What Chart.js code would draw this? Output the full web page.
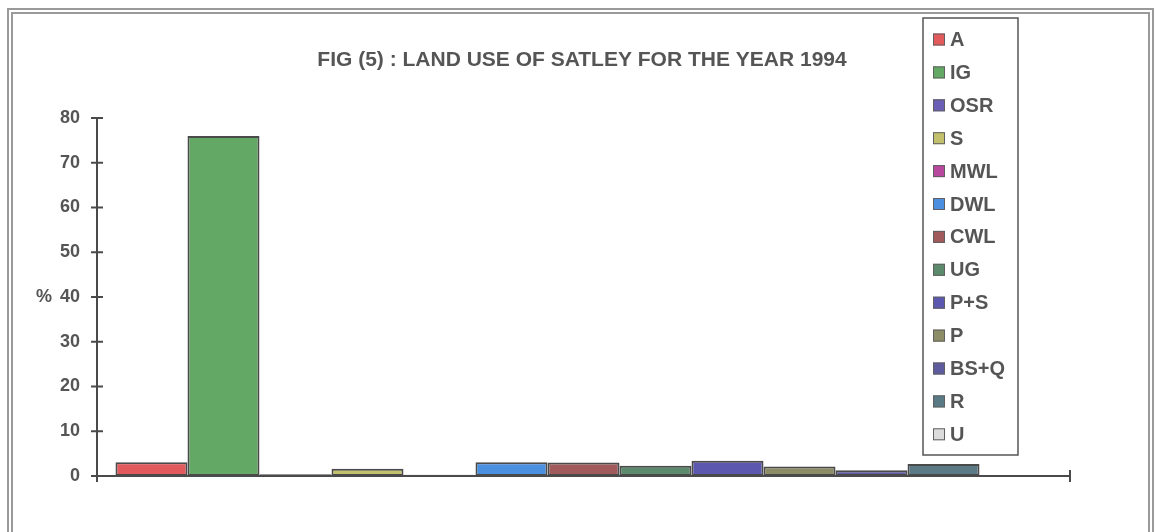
<!DOCTYPE html>
<html>
<head>
<meta charset="utf-8">
<script src="https://cdn.jsdelivr.net/npm/chart.js@4.4.1/dist/chart.umd.min.js"></script>
<style>
  html, body { margin: 0; padding: 0; background: #ffffff; overflow: hidden; }
  #wrap { position: relative; width: 1155px; height: 532px; }
  #frame { position: absolute; left: 7px; top: 8px; width: 1135px; height: 560px;
           border: 6px double #9a9a9a; box-sizing: content-box; }
  canvas { position: absolute; left: 0; top: 0; }
</style>
</head>
<body>
<div id="wrap">
  <div id="frame"></div>
  <canvas id="c" width="1155" height="532"></canvas>
</div>
<script>
// ---- data ----
const titleText = 'FIG (5) : LAND USE OF SATLEY FOR THE YEAR 1994';
const classes = ['A', 'IG', 'OSR', 'S', 'MWL', 'DWL', 'CWL', 'UG', 'P+S', 'P', 'BS+Q', 'R', 'U'];
const percent = [3.1, 76.0, 0.4, 1.6, 0.3, 3.1, 3.0, 2.3, 3.4, 2.1, 1.3, 2.7, 0];
const fillColors = ['#e25a5c', '#63a865', '#6a5fb4', '#c2c06c', '#b8489e', '#4b8fe0', '#a05a5c',
                    '#5b8a6c', '#5c58b0', '#8c8c66', '#5e5c9e', '#5a7a86', '#dcdcdc'];
const yTicks = [0, 10, 20, 30, 40, 50, 60, 70, 80];
const yUnit = '%';

const ink = '#555555';
const fontFam = '"Liberation Sans", Arial, sans-serif';

const datasets = classes.map((name, i) => ({
  label: name,
  data: [percent[i]],
  backgroundColor: fillColors[i],
  borderColor: '#4a4a4a',
  borderWidth: 2,
  borderSkipped: false,
  categoryPercentage: 0.962,
  barPercentage: 1.0
}));

const decor = {
  id: 'decor',
  afterDatasetsDraw(chart) {
    const ctx = chart.ctx;
    const y = chart.scales.y;
    const ca = chart.chartArea;
    const y0 = y.getPixelForValue(0);
    ctx.save();
    ctx.strokeStyle = '#4a4a4a';
    ctx.lineWidth = 2;
    ctx.beginPath();
    ctx.moveTo(ca.left, y.getPixelForValue(yTicks[yTicks.length - 1]));
    ctx.lineTo(ca.left, y0 + 6);
    ctx.stroke();
    yTicks.forEach(v => {
      const py = y.getPixelForValue(v);
      ctx.beginPath();
      ctx.moveTo(ca.left - 6, py);
      ctx.lineTo(ca.left + 6, py);
      ctx.stroke();
    });
    ctx.beginPath();
    ctx.moveTo(ca.left, y0);
    ctx.lineTo(ca.right, y0);
    ctx.stroke();
    ctx.beginPath();
    ctx.moveTo(ca.right, y0 - 6);
    ctx.lineTo(ca.right, y0 + 6);
    ctx.stroke();

    ctx.fillStyle = ink;
    ctx.font = 'bold 18px ' + fontFam;
    ctx.textAlign = 'right';
    ctx.textBaseline = 'middle';
    ctx.fillText(yUnit, 52, y.getPixelForValue(40));

    ctx.font = 'bold 21px ' + fontFam;
    ctx.textAlign = 'center';
    ctx.fillText(titleText, 582, 60);

    const lx = 923, ly = 18, lw = 95, lh = 437;
    ctx.fillStyle = '#ffffff';
    ctx.fillRect(lx, ly, lw, lh);
    ctx.strokeStyle = '#555555';
    ctx.lineWidth = 1.5;
    ctx.strokeRect(lx, ly, lw, lh);
    chart.data.datasets.forEach((ds, i) => {
      const cy = 39.5 + 32.9 * i;
      ctx.fillStyle = ds.backgroundColor;
      ctx.fillRect(933, cy - 6, 12, 12);
      ctx.strokeStyle = '#606060';
      ctx.lineWidth = 1;
      ctx.strokeRect(933.5, cy - 5.5, 11, 11);
      ctx.fillStyle = ink;
      ctx.font = 'bold 20px ' + fontFam;
      ctx.textAlign = 'left';
      ctx.textBaseline = 'middle';
      ctx.fillText(ds.label, 950, cy + 1);
    });
    ctx.restore();
  }
};

new Chart(document.getElementById('c'), {
  type: 'bar',
  data: { labels: [''], datasets },
  options: {
    responsive: false,
    animation: false,
    layout: { padding: { left: 0, top: 118, right: 85, bottom: 56 } },
    plugins: { legend: { display: false }, title: { display: false }, tooltip: { enabled: false } },
    scales: {
      x: {
        ticks: { display: false },
        grid: { display: false },
        border: { display: false },
        afterFit(s) { s.height = 0; }
      },
      y: {
        min: 0, max: 80,
        afterFit(s) { s.width = 97; },
        afterBuildTicks(s) { s.ticks = yTicks.map(v => ({ value: v })); },
        ticks: {
          padding: 17,
          color: ink,
          font: { family: fontFam, size: 18, weight: 'bold' }
        },
        grid: { display: false, drawTicks: false },
        border: { display: false }
      }
    }
  },
  plugins: [decor]
});
</script>
</body>
</html>
